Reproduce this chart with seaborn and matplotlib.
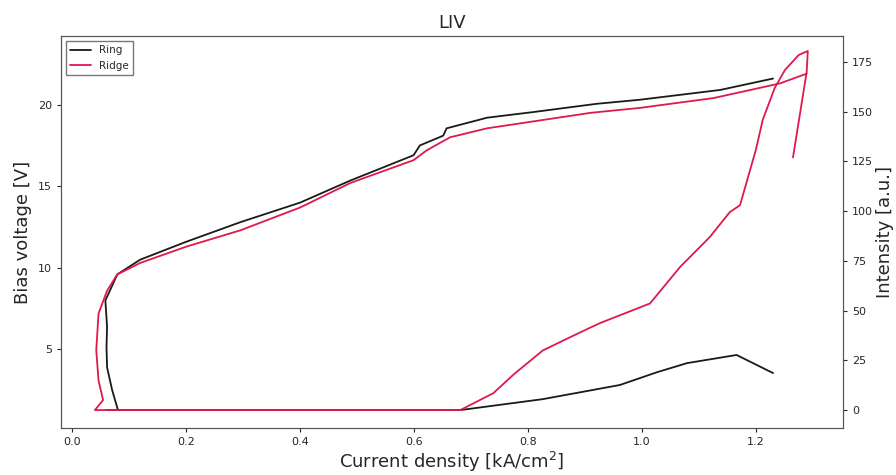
import matplotlib
matplotlib.use("Agg")
import matplotlib.pyplot as plt
import seaborn as sns
import pandas as pd

# current density [kA/cm2] and bias voltage [V]
ring_j_v = [0.080, 0.070, 0.061, 0.060, 0.061, 0.058, 0.079, 0.119, 0.200, 0.295, 0.400, 0.488,
            0.599, 0.610, 0.651, 0.657, 0.728, 0.810, 0.920, 0.996, 1.137, 1.230]
ring_v = [1.3, 2.5, 3.9, 5.15, 6.4, 8.0, 9.6, 10.5, 11.6, 12.8, 14.0, 15.35,
          16.9, 17.5, 18.1, 18.55, 19.2, 19.55, 20.05, 20.3, 20.9, 21.6]

ridge_j_v = [0.040, 0.054, 0.046, 0.042, 0.046, 0.061, 0.079, 0.119, 0.200, 0.295, 0.400, 0.488,
             0.599, 0.622, 0.663, 0.728, 0.910, 0.996, 1.125, 1.242, 1.289]
ridge_v = [1.3, 1.9, 3.1, 4.96, 7.2, 8.6, 9.6, 10.3, 11.3, 12.3, 13.7, 15.2,
           16.6, 17.2, 18.0, 18.55, 19.5, 19.8, 20.4, 21.3, 21.9]

# current density [kA/cm2] and light intensity [a.u.]
ring_j_l = [0.060, 0.300, 0.681, 0.826, 0.961, 1.026, 1.079, 1.166, 1.230]
ring_l = [0.0, 0.0, 0.0, 5.5, 12.6, 19.0, 23.6, 27.7, 18.6]

ridge_j_l = [0.040, 0.300, 0.681, 0.739, 0.775, 0.826, 0.891, 0.926, 1.014, 1.067, 1.119, 1.154,
             1.172, 1.200, 1.212, 1.233, 1.251, 1.275, 1.291, 1.289, 1.265]
ridge_l = [0.0, 0.0, 0.0, 8.5, 18.0, 30.0, 39.0, 43.7, 53.6, 72.0, 87.0, 99.5,
           103.0, 131.0, 146.0, 162.0, 171.0, 178.5, 180.5, 170.0, 127.0]

colors = {"Ring": "#1a1a1a", "Ridge": "#e0184c"}

df_v = pd.concat([
    pd.DataFrame({"j": ring_j_v, "val": ring_v, "device": "Ring"}),
    pd.DataFrame({"j": ridge_j_v, "val": ridge_v, "device": "Ridge"}),
])
df_l = pd.concat([
    pd.DataFrame({"j": ring_j_l, "val": ring_l, "device": "Ring"}),
    pd.DataFrame({"j": ridge_j_l, "val": ridge_l, "device": "Ridge"}),
])

sns.set_style("ticks")
plt.rcParams["font.family"] = ["DejaVu Sans"]

fig = plt.figure(figsize=(8.96, 4.75), dpi=100)
ax = fig.add_axes([0.068, 0.099, 0.873, 0.825])
ax2 = ax.twinx()

sns.lineplot(data=df_v, x="j", y="val", hue="device", palette=colors, sort=False,
             estimator=None, linewidth=1.3, ax=ax)
sns.lineplot(data=df_l, x="j", y="val", hue="device", palette=colors, sort=False,
             estimator=None, linewidth=1.3, ax=ax2, legend=False)

ax.set_xlim(-0.02, 1.353)
ax.set_ylim(0.19, 24.2)
ax2.set_ylim(-9.0, 188.0)
ax.set_yticks([5, 10, 15, 20])
ax2.set_yticks([0, 25, 50, 75, 100, 125, 150, 175])

ax.set_xlabel("Current density [kA/cm$^2$]", fontsize=13, labelpad=2)
ax.set_ylabel("Bias voltage [V]", fontsize=13)
ax2.set_ylabel("Intensity [a.u.]", fontsize=13, labelpad=2)
ax.set_title("LIV", fontsize=13)

for a in (ax, ax2):
    a.tick_params(labelsize=8, length=3)
    for s in a.spines.values():
        s.set_color("#555555")

ax.legend(loc="upper left", fontsize=7.5, title=None, frameon=True, fancybox=False,
          edgecolor="#555555")

fig.savefig("out.png", dpi=100)
